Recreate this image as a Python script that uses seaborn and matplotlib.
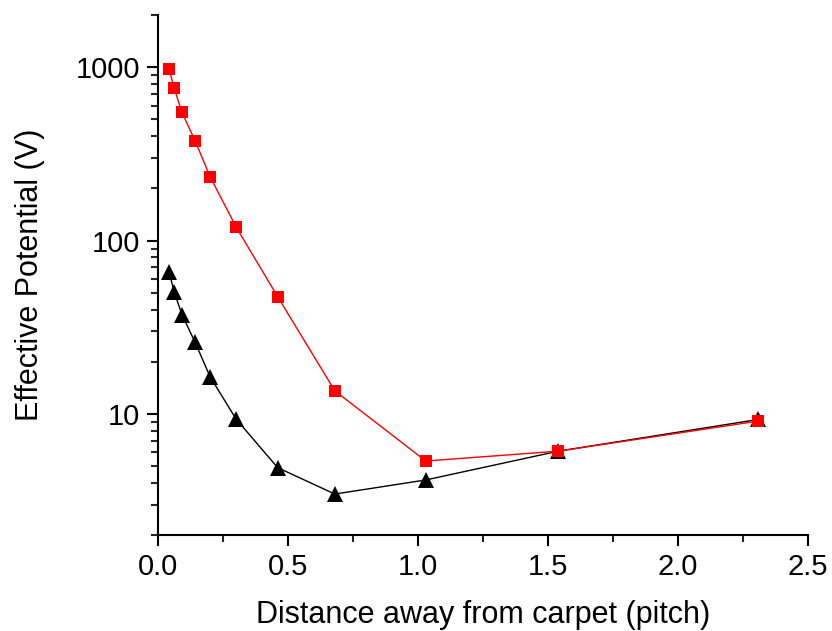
import matplotlib
matplotlib.use("Agg")
import matplotlib.pyplot as plt
import matplotlib.ticker as mticker
import seaborn as sns
import pandas as pd

distance = [0.042, 0.062, 0.092, 0.142, 0.200, 0.300, 0.460, 0.680, 1.030, 1.540, 2.310]
red_potential = [980, 757, 549, 378, 234, 120, 47.5, 13.6, 5.35, 6.1, 9.1]
black_potential = [66, 50.7, 37.3, 26, 16.4, 9.35, 4.9, 3.45, 4.16, 6.1, 9.3]

sns.set_style("ticks")
plt.rcParams['font.family'] = ['Liberation Sans', 'DejaVu Sans']
plt.rcParams['text.color'] = 'black'
plt.rcParams['axes.labelcolor'] = 'black'

fig = plt.figure(figsize=(8.32, 6.31), dpi=100)
ax = fig.add_axes([0.19, 0.152, 0.781, 0.824])

df_black = pd.DataFrame({"x": distance, "y": black_potential})
df_red = pd.DataFrame({"x": distance, "y": red_potential})

sns.lineplot(data=df_black, x="x", y="y", ax=ax, color="black", lw=1.0,
             marker="^", markersize=11.5, markeredgewidth=0, sort=False)
sns.lineplot(data=df_red, x="x", y="y", ax=ax, color="#ff0000", lw=1.0,
             marker="s", markersize=9, markeredgewidth=0, sort=False)

ax.set_yscale("log")
ax.set_xlim(0, 2.5)
ax.set_ylim(2, 2000)
ax.xaxis.set_major_locator(mticker.MultipleLocator(0.5))
ax.xaxis.set_minor_locator(mticker.MultipleLocator(0.25))
ax.xaxis.set_major_formatter(mticker.FormatStrFormatter("%.1f"))
ax.yaxis.set_major_locator(mticker.LogLocator(base=10, numticks=10))
ax.yaxis.set_minor_locator(mticker.LogLocator(base=10, subs=range(2, 10), numticks=20))
ax.yaxis.set_major_formatter(mticker.FuncFormatter(lambda v, p: f"{v:g}"))
ax.yaxis.set_minor_formatter(mticker.NullFormatter())

for s in ["top", "right"]:
    ax.spines[s].set_visible(False)
for s in ["left", "bottom"]:
    ax.spines[s].set_linewidth(1.5)
    ax.spines[s].set_color("black")

ax.tick_params(which="major", direction="out", length=8, width=1.5, labelsize=21, colors="black", pad=5)
ax.tick_params(which="minor", direction="out", length=5, width=1.5)

ax.set_xlabel("Distance away from carpet (pitch)", fontsize=22, labelpad=13.5, color="black")
ax.set_ylabel("Effective Potential (V)", fontsize=22, labelpad=22, color="black")

fig.savefig("out.png", dpi=100)
